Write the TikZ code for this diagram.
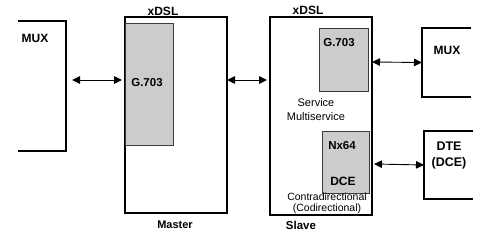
\documentclass[tikz,border=0pt]{standalone}
\usepackage{fontspec}
\setmainfont{Liberation Sans}
\usetikzlibrary{arrows.meta}
\definecolor{cardGray}{RGB}{204,204,204}
\definecolor{edgeGray}{RGB}{60,60,60}

\begin{document}
\begin{tikzpicture}[x=1pt,y=-1pt,
  unit/.style={draw,line width=1.2pt,inner sep=0,outer sep=0},
  card/.style={draw=edgeGray,fill=cardGray,line width=0.9pt,inner sep=0,outer sep=0},
  stub/.style={inner sep=0,outer sep=0},
  head/.style={font=\fontsize{11.5}{13}\selectfont\bfseries,inner sep=0},
  note/.style={font=\fontsize{10.5}{11}\selectfont,align=center,inner sep=0},
  link/.style={{Triangle[length=8pt,width=7.5pt]}-{Triangle[length=8pt,width=7.5pt]},line width=0.9pt}]
\useasboundingbox (0,0) rectangle (504,241);
% Left multiplexer (cut off at the page edge)
\node[stub,minimum width=48,minimum height=130] (muxL) at (42,86) {};
\draw[line width=1.2pt] (muxL.north west) -- (muxL.north east) -- (muxL.south east) -- (muxL.south west);
\node[head,font=\fontsize{12}{14}\selectfont\bfseries] (muxLtxt) at (35,38) {MUX};
% Master modem
\node[unit,minimum width=102,minimum height=196] (master) at (176,115) {};
\node[card,minimum width=48,minimum height=122] (masterG) at (149,84) {};
\node[head] (masterGtxt) at (147,83) {G.703};
\node[head,font=\fontsize{12}{14}\selectfont\bfseries] (masterTop) at (163,11) {xDSL};
\node[head,font=\fontsize{11}{13}\selectfont\bfseries] (masterName) at (175,225) {Master};
% Slave modem
\node[unit,minimum width=102,minimum height=198] (slave) at (321,116) {};
\node[card,minimum width=49,minimum height=63] (slaveG) at (343.5,59.5) {};
\node[head] (slaveGtxt) at (339,43) {G.703};
\node[note,font=\fontsize{11}{14}\selectfont] (service) at (316,110) {Service\\Multiservice};
\node[card,minimum width=47,minimum height=62] (slaveN) at (345.5,162) {};
\node[head,font=\fontsize{11.5}{13}\selectfont\bfseries] (slaveNtxt) at (342,146) {Nx64};
\node[head,font=\fontsize{12}{14}\selectfont\bfseries] (slaveDce) at (343,181) {DCE};
\node[note] (contra) at (327,203) {Contradirectional\\(Codirectional)};
\node[head,font=\fontsize{12}{14}\selectfont\bfseries] (slaveTop) at (308,10) {xDSL};
\node[head,font=\fontsize{11.5}{13}\selectfont\bfseries] (slaveName) at (301,225) {Slave};
% Right multiplexer and terminal (open on the right)
\node[stub,minimum width=49,minimum height=69] (muxR) at (446.5,62.5) {};
\draw[line width=1.2pt] (muxR.north east) -- (muxR.north west) -- (muxR.south west) -- (muxR.south east);
\node[head,font=\fontsize{12}{14}\selectfont\bfseries] (muxRtxt) at (447,50) {MUX};
\node[stub,minimum width=49,minimum height=68] (dte) at (448.5,165) {};
\draw[line width=1.2pt] (dte.north east) -- (dte.north west) -- (dte.south west) -- (dte.south east);
\node[head,font=\fontsize{12.5}{16}\selectfont\bfseries,align=center] (dtetxt) at (449,155) {DTE\\(DCE)};
% Links
\draw[link] ([xshift=6pt,yshift=6pt]muxL.east) -- ([xshift=-3pt,yshift=35pt]master.west);
\draw[link] ([yshift=35pt]master.east) -- ([xshift=-3pt,yshift=36pt]slave.west);
\draw[link] ([yshift=54pt]slave.east) -- (muxR.west);
\draw[link] ([xshift=2pt,yshift=-48pt]slave.east) -- (dte.west);
\end{tikzpicture}
\end{document}
